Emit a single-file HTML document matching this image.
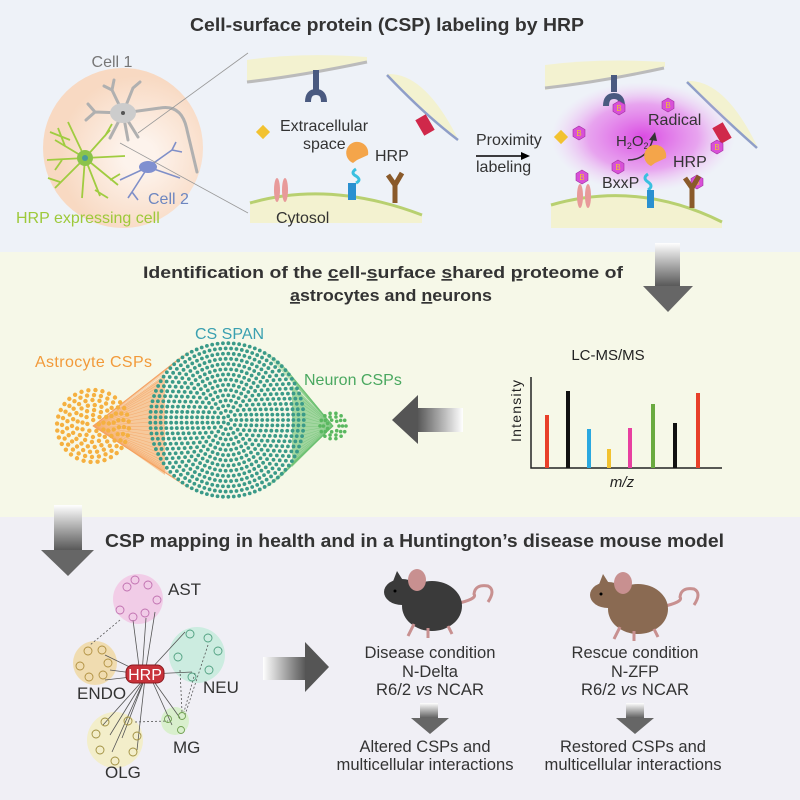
<!DOCTYPE html>
<html><head><meta charset="utf-8"><style>
body{margin:0;width:800px;height:800px;overflow:hidden}
svg{display:block}
text{font-family:"Liberation Sans",sans-serif}
</style></head><body>
<svg id="s" width="800" height="800" viewBox="0 0 800 800" xmlns="http://www.w3.org/2000/svg">
<defs>
<linearGradient id="gv" x1="0" y1="0" x2="0" y2="1"><stop offset="0" stop-color="#fff"/><stop offset="1" stop-color="#555"/></linearGradient>
<linearGradient id="gh" x1="0" y1="0" x2="1" y2="0"><stop offset="0" stop-color="#fff"/><stop offset="1" stop-color="#555"/></linearGradient>
<linearGradient id="ghl" x1="1" y1="0" x2="0" y2="0"><stop offset="0" stop-color="#fff"/><stop offset="1" stop-color="#555"/></linearGradient>
<radialGradient id="peach" cx="0.6" cy="0.55"><stop offset="0.2" stop-color="#fdf3ec"/><stop offset="1" stop-color="#f8d9c2"/></radialGradient>
<radialGradient id="mag"><stop offset="0" stop-color="#d838e0" stop-opacity="0.9"/><stop offset="0.6" stop-color="#e47aea" stop-opacity="0.65"/><stop offset="1" stop-color="#f0c0f4" stop-opacity="0"/></radialGradient>
<g id="hex"><polygon points="0,-7 6,-3.5 6,3.5 0,7 -6,3.5 -6,-3.5" fill="#d850d8" stroke="#a030a0" stroke-width="0.6"/><text y="3" font-size="8" fill="#f2c230" text-anchor="middle">B</text></g>
</defs>
<rect width="800" height="252" fill="#eef2f8"/>
<rect y="252" width="800" height="265" fill="#f6f8e8"/>
<rect y="517" width="800" height="283" fill="#f0eff5"/>

<text x="387" y="31" font-size="18" font-weight="bold" text-anchor="middle" fill="#333" textLength="394" lengthAdjust="spacingAndGlyphs">Cell-surface protein (CSP) labeling by HRP</text>

<!-- cell circle -->
<circle cx="123" cy="148" r="80" fill="url(#peach)"/>
<g stroke="#b0b0b0" stroke-width="3" fill="none" stroke-linecap="round"><path d="M123 113 L112 90 M112 90 L104 86 M112 90 L114 80 M123 113 L133 88 M133 88 L140 82 M123 113 L95 112 M95 112 L88 104 M95 112 L86 120 M123 113 L110 138 M123 113 L128 140 M123 113 L138 137 M123 113 L160 108 Q182 104 187 130 L197 172"/></g>
<ellipse cx="123" cy="113" rx="13" ry="10" fill="#ccc"/>
<circle cx="123" cy="113" r="2" fill="#555"/>
<g stroke="#a0cc40" stroke-width="1.8" fill="none"><path d="M85 158 L55 140 M85 158 L55 188 M85 158 L110 130 M85 158 L118 185 M85 158 L82 198 M85 158 L47 160 M85 158 L125 156 M85 158 L68 122 M85 158 L100 196 M65 146 L58 128 M60 182 L48 178 M105 136 L112 124 M110 180 L120 174 M70 140 L50 132 M95 190 L108 198 M62 160 L55 170"/></g>
<circle cx="85" cy="158" r="8" fill="#8bc34a"/>
<circle cx="85" cy="158" r="3" fill="#4a9a9a"/>
<g stroke="#7f8fc8" stroke-width="1.6" fill="none"><path d="M148 167 L120 180 M148 167 L172 150 M148 167 L132 192 M148 167 L180 178 M172 150 L176 142 M172 150 L182 152 M132 192 L128 198 M132 192 L138 200"/></g>
<ellipse cx="148" cy="167" rx="9" ry="6" fill="#8090d0"/>
<line x1="138" y1="133" x2="248" y2="53" stroke="#999" stroke-width="0.8"/>
<line x1="120" y1="143" x2="248" y2="213" stroke="#999" stroke-width="0.8"/>
<text x="112" y="67" font-size="16" text-anchor="middle" fill="#777">Cell 1</text>
<text x="148" y="204" font-size="16" fill="#6d86c0">Cell 2</text>
<text x="16" y="223" font-size="16" fill="#9dc93a">HRP expressing cell</text>

<!-- middle membrane panel -->
<path d="M247 60 Q300 52 367 57 L367 62 Q300 76 247 82 Z" fill="#f3f2d0"/>
<path d="M247 82 Q300 76 367 62" stroke="#bbb" stroke-width="3" fill="none"/>
<path d="M387 74 Q425 72 459 141 Q425 112 387 74 Z" fill="#f3f2d0"/>
<path d="M387 75 Q425 115 458 140" stroke="#8f9ec8" stroke-width="2.5" fill="none"/>
<path d="M250 203 Q330 180 422 215 L422 223 L250 223 Z" fill="#f3f2d0"/>
<path d="M250 203 Q330 180 422 215" stroke="#b8d070" stroke-width="3" fill="none"/>
<path d="M316 70 L316 90 M308 102 Q308 92 316 92 Q324 92 324 102" stroke="#4a5a80" stroke-width="6" fill="none"/>
<rect x="419" y="116" width="12" height="18" fill="#d0284a" transform="rotate(-30 425 125)"/>
<rect x="258" y="127" width="10" height="10" fill="#f2c230" transform="rotate(45 263 132)"/>
<text x="280" y="131" font-size="16" fill="#333">Extracellular</text>
<text x="303" y="149" font-size="16" fill="#333">space</text>
<path d="M353 163 A11 11 0 1 1 368 155 L357 160 Z" fill="#f4a54a"/>
<text x="375" y="161" font-size="16" fill="#333">HRP</text>
<path d="M356 169 q-6 4 0 7 q6 4 0 7" stroke="#3ac0e0" stroke-width="3" fill="none"/>
<rect x="348" y="183" width="8" height="17" fill="#2a90d0"/>
<path d="M395 183 L395 203 M388 175 L395 185 L402 173" stroke="#8a5a2a" stroke-width="5" fill="none"/>
<ellipse cx="277" cy="190" rx="3" ry="12" fill="#e89a9a"/>
<ellipse cx="285" cy="190" rx="3" ry="12" fill="#e89a9a"/>
<text x="276" y="223" font-size="16" fill="#333">Cytosol</text>

<text x="476" y="145" font-size="16" fill="#333">Proximity</text>
<line x1="476" y1="156" x2="522" y2="156" stroke="#000" stroke-width="1.5"/>
<path d="M530 156 L521 152 L521 160 Z"/>
<text x="476" y="172" font-size="16" fill="#333">labeling</text>

<!-- right panel -->
<path d="M545 65 Q600 58 665 62 L665 67 Q600 80 545 90 Z" fill="#f3f2d0"/>
<path d="M545 88 Q600 82 664 68" stroke="#bbb" stroke-width="3" fill="none"/>
<path d="M687 81 Q725 79 758 148 Q722 117 687 81 Z" fill="#f3f2d0"/>
<path d="M687 82 Q722 117 757 148" stroke="#8f9ec8" stroke-width="2.5" fill="none"/>
<path d="M551 205 Q638 180 722 222 L722 228 L551 228 Z" fill="#f3f2d0"/>
<ellipse cx="643" cy="137" rx="92" ry="55" fill="url(#mag)"/>
<path d="M551 205 Q638 180 722 222" stroke="#b8d070" stroke-width="3" fill="none"/>
<path d="M614 75 L614 92 M606 106 Q606 96 614 96 Q622 96 622 106" stroke="#4a5a80" stroke-width="6" fill="none"/>
<rect x="556" y="132" width="10" height="10" fill="#f2c230" transform="rotate(45 561 137)"/>
<rect x="716" y="124" width="12" height="18" fill="#d0284a" transform="rotate(-30 722 133)"/>
<use href="#hex" x="619" y="108"/><use href="#hex" x="668" y="105"/><use href="#hex" x="579" y="133"/>
<use href="#hex" x="618" y="167"/><use href="#hex" x="582" y="177"/><use href="#hex" x="717" y="147"/><use href="#hex" x="697" y="182"/>
<text x="648" y="125" font-size="16" fill="#333">Radical</text>
<text x="616" y="146" font-size="15" fill="#333">H<tspan font-size="9" dy="3">2</tspan><tspan dy="-3">O</tspan><tspan font-size="9" dy="3">2</tspan></text>
<path d="M628 160 Q648 160 653 138" stroke="#333" stroke-width="1.5" fill="none"/>
<path d="M655 132 L649 140 L657 141 Z" fill="#333"/>
<text x="602" y="188" font-size="16" fill="#333">BxxP</text>
<path d="M651 166 A11 11 0 1 1 666 158 L655 163 Z" fill="#f4a54a"/>
<text x="673" y="167" font-size="16" fill="#333">HRP</text>
<path d="M648 174 q-6 4 0 8 q6 4 0 8" stroke="#3ac0e0" stroke-width="3" fill="none"/>
<rect x="647" y="190" width="7" height="18" fill="#2a90d0"/>
<path d="M692 186 L692 208 M685 178 L692 188 L699 176" stroke="#8a5a2a" stroke-width="5" fill="none"/>
<ellipse cx="580" cy="196" rx="3" ry="12" fill="#e89a9a"/><ellipse cx="588" cy="196" rx="3" ry="12" fill="#e89a9a"/>

<!-- down arrow top -->
<rect x="655" y="243" width="25" height="44" fill="url(#gv)"/>
<path d="M643 286 L693 286 L668 312 Z" fill="#666"/>

<text x="383" y="278" font-size="17" font-weight="bold" text-anchor="middle" fill="#333" textLength="480" lengthAdjust="spacingAndGlyphs">Identification of the <tspan text-decoration="underline">c</tspan>ell-<tspan text-decoration="underline">s</tspan>urface <tspan text-decoration="underline">s</tspan>hared <tspan text-decoration="underline">p</tspan>roteome of</text>
<text x="391" y="301" font-size="17" font-weight="bold" text-anchor="middle" fill="#333" textLength="202" lengthAdjust="spacingAndGlyphs"><tspan text-decoration="underline">a</tspan>strocytes and <tspan text-decoration="underline">n</tspan>eurons</text>

<text x="35" y="367" font-size="16" fill="#f29a3a" textLength="117">Astrocyte CSPs</text>
<text x="195" y="339" font-size="16" fill="#3aa0b0">CS SPAN</text>
<text x="304" y="385" font-size="16" fill="#4aa860">Neuron CSPs</text>
<g id="net"></g>

<!-- left arrow -->
<rect x="417" y="408" width="46" height="24" fill="url(#ghl)"/>
<path d="M418 395 L418 444 L392 420 Z" fill="#555"/>

<text x="608" y="360" font-size="15" text-anchor="middle" fill="#222">LC-MS/MS</text>
<path d="M531 377 L531 468 L722 468" stroke="#222" stroke-width="1.5" fill="none"/>
<text x="521" y="442" font-size="14" fill="#222" transform="rotate(-90 521 442)" textLength="62">Intensity</text>
<g stroke-width="4">
<line x1="547" y1="468" x2="547" y2="415" stroke="#e8402a"/>
<line x1="568" y1="468" x2="568" y2="391" stroke="#111"/>
<line x1="589" y1="468" x2="589" y2="429" stroke="#2aa8e0"/>
<line x1="609" y1="468" x2="609" y2="449" stroke="#f2c230"/>
<line x1="630" y1="468" x2="630" y2="428" stroke="#e840a0"/>
<line x1="653" y1="468" x2="653" y2="404" stroke="#6aaa40"/>
<line x1="675" y1="468" x2="675" y2="423" stroke="#111"/>
<line x1="698" y1="468" x2="698" y2="393" stroke="#e8402a"/>
</g>
<text x="622" y="487" font-size="15" font-style="italic" text-anchor="middle" fill="#222">m/z</text>

<!-- bottom -->
<rect x="54" y="505" width="28" height="46" fill="url(#gv)"/>
<path d="M41 550 L94 550 L68 576 Z" fill="#666"/>
<text x="105" y="547" font-size="18" font-weight="bold" fill="#333" textLength="619" lengthAdjust="spacingAndGlyphs">CSP mapping in health and in a Huntington’s disease mouse model</text>

<g opacity="0.8">
<circle cx="138" cy="599" r="25" fill="#f2c4e4"/>
<circle cx="95" cy="663" r="22" fill="#f0d8a0"/>
<circle cx="197" cy="655" r="28" fill="#c4ecdc"/>
<circle cx="175" cy="721" r="14" fill="#d4f0c4"/>
<circle cx="115" cy="740" r="28" fill="#f4eec0"/>
</g>
<g stroke="#555" stroke-width="0.8" fill="none">
<path d="M140 674 L133 620 M142 674 L146 618 M145 674 L155 612 M140 672 L105 655 M140 674 L110 670 M140 676 L105 680 M150 670 L185 632 M150 674 L192 672 M150 676 L180 718 M150 676 L172 725 M145 678 L103 725 M145 678 L110 735 M145 678 L112 752 M145 678 L122 738 M145 678 L137 750"/>
</g>
<g stroke="#555" stroke-width="0.8" stroke-dasharray="2,2" fill="none">
<path d="M120 620 L90 645 M180 670 L182 712 M195 673 L184 712 M135 722 L168 721 M208 645 L185 715"/>
</g>
<g fill="none" stroke-width="0.9">
<g stroke="#c070b0"><circle cx="127" cy="587" r="4"/><circle cx="135" cy="580" r="4"/><circle cx="148" cy="585" r="4"/><circle cx="157" cy="600" r="4"/><circle cx="120" cy="610" r="4"/><circle cx="133" cy="617" r="4"/><circle cx="145" cy="613" r="4"/></g>
<g stroke="#b09040"><circle cx="88" cy="651" r="4"/><circle cx="102" cy="650" r="4"/><circle cx="80" cy="666" r="4"/><circle cx="108" cy="663" r="4"/><circle cx="89" cy="677" r="4"/><circle cx="103" cy="675" r="4"/></g>
<g stroke="#50a080"><circle cx="190" cy="634" r="4"/><circle cx="208" cy="638" r="4"/><circle cx="218" cy="651" r="4"/><circle cx="178" cy="657" r="4"/><circle cx="209" cy="670" r="4"/><circle cx="192" cy="677" r="4"/></g>
<g stroke="#70a050"><circle cx="168" cy="719" r="3.5"/><circle cx="182" cy="716" r="3.5"/><circle cx="181" cy="730" r="3.5"/></g>
<g stroke="#a09040"><circle cx="105" cy="722" r="4"/><circle cx="128" cy="721" r="4"/><circle cx="96" cy="734" r="4"/><circle cx="137" cy="736" r="4"/><circle cx="100" cy="750" r="4"/><circle cx="133" cy="752" r="4"/><circle cx="115" cy="761" r="4"/></g>
</g>
<rect x="126" y="665" width="38" height="18" rx="7" fill="#c8323a" stroke="#8a1a20"/>
<text x="145" y="680" font-size="16" fill="#fff" text-anchor="middle">HRP</text>
<text x="168" y="595" font-size="17" fill="#333">AST</text>
<text x="77" y="699" font-size="17" fill="#333">ENDO</text>
<text x="203" y="693" font-size="17" fill="#333">NEU</text>
<text x="173" y="753" font-size="17" fill="#333">MG</text>
<text x="105" y="778" font-size="17" fill="#333">OLG</text>

<rect x="263" y="657" width="43" height="23" fill="url(#gh)"/>
<path d="M305 642 L305 692 L329 667 Z" fill="#555"/>

<!-- mice -->
<g transform="translate(430,604)">
<path d="M25 0 Q48 -5 44 -10 Q45 -20 58 -18 Q66 -14 58 -2" stroke="#c89090" stroke-width="3" fill="none"/>
<ellipse cx="2" cy="2" rx="30" ry="25" fill="#3a3a3a"/>
<ellipse cx="-28" cy="-12" rx="18" ry="13" fill="#3a3a3a"/>
<path d="M-38 -20 L-33 -33 L-26 -22 Z" fill="#3a3a3a"/>
<ellipse cx="-13" cy="-24" rx="9" ry="11" fill="#c89090"/>
<circle cx="-35" cy="-13" r="1.5" fill="#000"/>
<path d="M-16 20 L-22 32 M-2 24 L-2 34 M18 22 L22 30" stroke="#c89090" stroke-width="3"/>
</g>
<g transform="translate(636,607)">
<path d="M25 0 Q48 -5 44 -10 Q45 -20 58 -18 Q66 -14 58 -2" stroke="#c89090" stroke-width="3" fill="none"/>
<ellipse cx="2" cy="2" rx="30" ry="25" fill="#8a6a52"/>
<ellipse cx="-28" cy="-12" rx="18" ry="13" fill="#8a6a52"/>
<path d="M-38 -20 L-33 -33 L-26 -22 Z" fill="#8a6a52"/>
<ellipse cx="-13" cy="-24" rx="9" ry="11" fill="#c89090"/>
<circle cx="-35" cy="-13" r="1.5" fill="#000"/>
<path d="M-16 20 L-22 32 M-2 24 L-2 34 M18 22 L22 30" stroke="#c89090" stroke-width="3"/>
</g>
<g font-size="17" fill="#333" text-anchor="middle">
<text x="430" y="658" textLength="131" lengthAdjust="spacingAndGlyphs">Disease condition</text>
<text x="430" y="677" textLength="56" lengthAdjust="spacingAndGlyphs">N-Delta</text>
<text x="430" y="695" textLength="108" lengthAdjust="spacingAndGlyphs">R6/2 <tspan font-style="italic">vs</tspan> NCAR</text>
<text x="425" y="752" textLength="131" lengthAdjust="spacingAndGlyphs">Altered CSPs and</text>
<text x="425" y="770" textLength="177" lengthAdjust="spacingAndGlyphs">multicellular interactions</text>
<text x="635" y="658" textLength="127" lengthAdjust="spacingAndGlyphs">Rescue condition</text>
<text x="635" y="677" textLength="48" lengthAdjust="spacingAndGlyphs">N-ZFP</text>
<text x="635" y="695" textLength="108" lengthAdjust="spacingAndGlyphs">R6/2 <tspan font-style="italic">vs</tspan> NCAR</text>
<text x="633" y="752" textLength="146" lengthAdjust="spacingAndGlyphs">Restored CSPs and</text>
<text x="633" y="770" textLength="177" lengthAdjust="spacingAndGlyphs">multicellular interactions</text>
</g>
<rect x="420" y="703" width="18" height="16" fill="url(#gv)"/>
<path d="M411 718 L449 718 L430 734 Z" fill="#666"/>
<rect x="626" y="703" width="18" height="16" fill="url(#gv)"/>
<path d="M616 718 L654 718 L635 734 Z" fill="#666"/>
</svg>
<script>
(function(){
var g=document.getElementById('net'),h='';
var cx=227,cy=420,R=78;
for(var i=0;i<40;i++){var a=-1.2+2.4*i/39;
h+='<line x1="93" y1="426" x2="'+(cx+R*Math.cos(Math.PI+a*0.9))+'" y2="'+(cy+R*Math.sin(Math.PI+a*0.9))+'" stroke="#f5a060" stroke-width="0.6" opacity="0.6"/>';
h+='<line x1="333" y1="426" x2="'+(cx+R*Math.cos(a*0.9))+'" y2="'+(cy+R*Math.sin(a*0.9))+'" stroke="#6ac070" stroke-width="0.6" opacity="0.6"/>';}
h+='<polygon points="95,426 165,375 165,475" fill="#f59a50" opacity="0.5"/>';
h+='<polygon points="333,426 292,385 292,467" fill="#6ac070" opacity="0.6"/>';
for(var r=6;r<=40;r+=5){var n=Math.round(r*0.9);for(var k=0;k<n;k++){var t=2*Math.PI*k/n+r;h+='<circle cx="'+(93+r*Math.cos(t))+'" cy="'+(426+r*Math.sin(t))+'" r="2.2" fill="#f5b040"/>';}}
for(var r=4;r<=R;r+=5.2){var n=Math.max(1,Math.round(2*Math.PI*r/5.4));for(var k=0;k<n;k++){var t=2*Math.PI*k/n;var x=cx+r*Math.cos(t);h+='<circle cx="'+x+'" cy="'+(cy+r*Math.sin(t))+'" r="1.9" fill="'+(x<150&&Math.abs(r*Math.sin(t))<25?'#f5a040':'#3a9a88')+'"/>';}}
for(var r=6;r<=13;r+=3.5){var n=Math.round(r*1.1);for(var k=0;k<n;k++){var t=2*Math.PI*k/n;h+='<circle cx="'+(333+r*Math.cos(t))+'" cy="'+(426+r*Math.sin(t))+'" r="1.8" fill="#5ab860"/>';}}
g.innerHTML=h;
})();
</script>
</body></html>
